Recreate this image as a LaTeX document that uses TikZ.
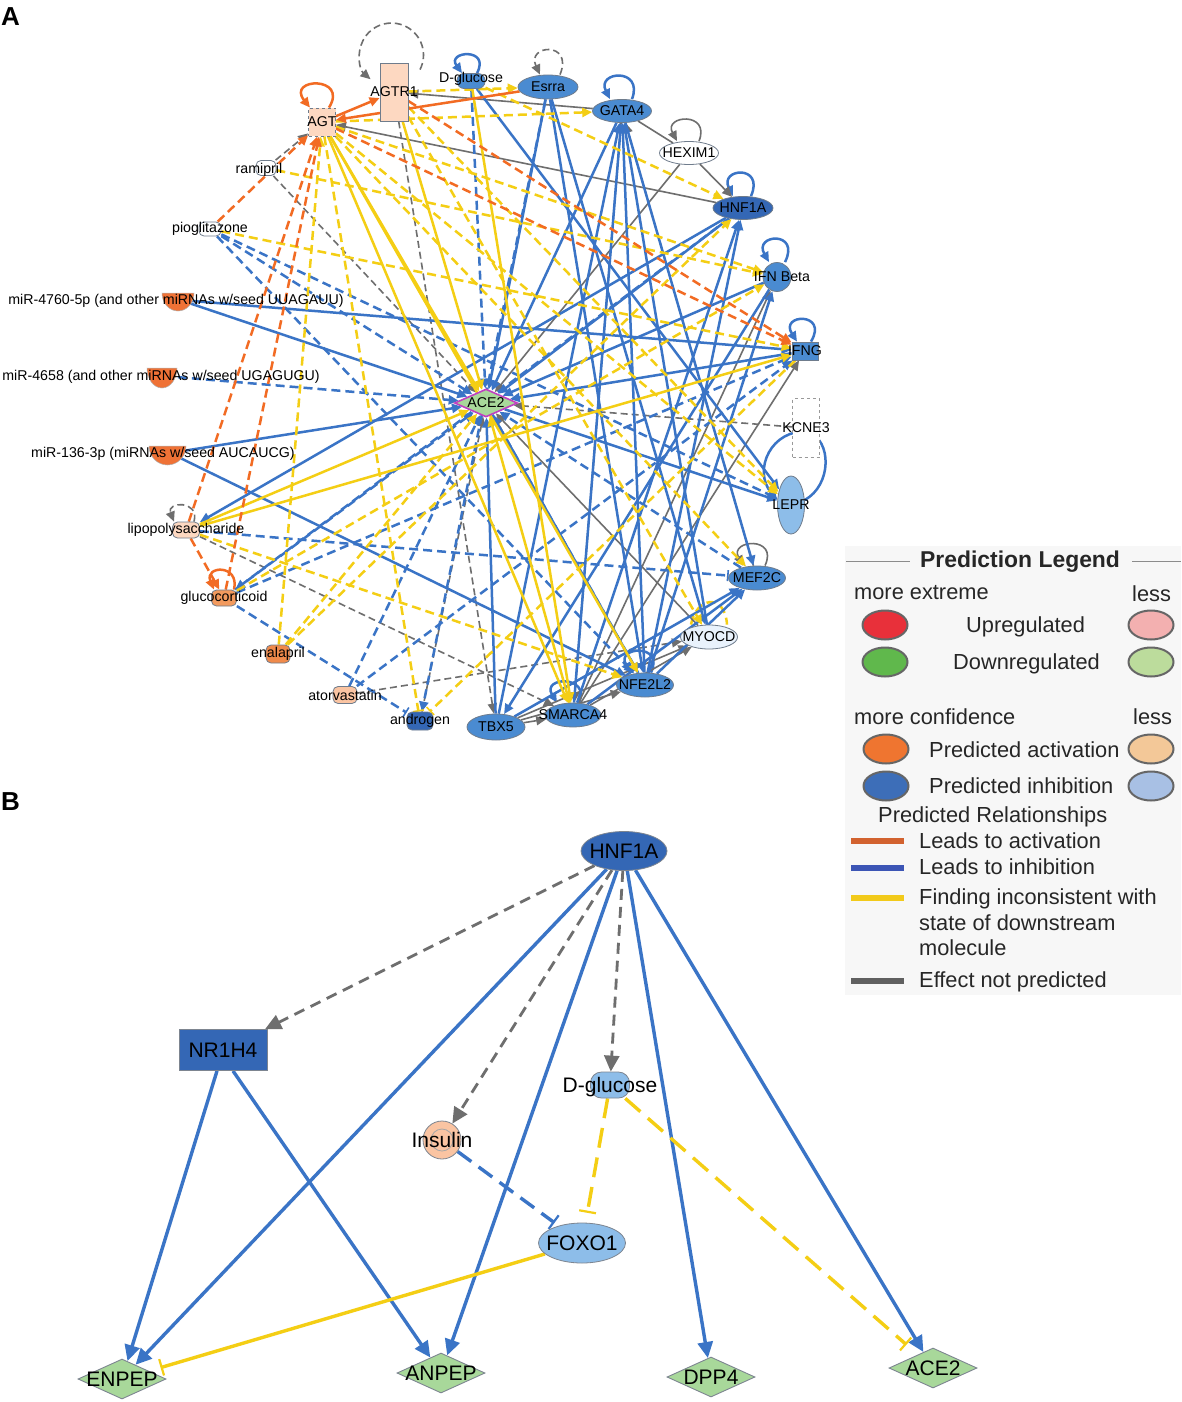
\documentclass[tikz,border=0pt]{standalone}
\usepackage{fontspec}
\setmainfont{Liberation Sans}
\usetikzlibrary{arrows.meta,shapes.geometric}
\pgfdeclarelayer{bg}
\pgfsetlayers{bg,main}
\definecolor{ora}{HTML}{F26B23}
\definecolor{blu}{HTML}{3A74C6}
\definecolor{yel}{HTML}{F4CE14}
\definecolor{gry}{HTML}{6E6E6E}
\definecolor{bluM}{HTML}{4A8BD1}
\definecolor{bluD}{HTML}{3467B5}
\definecolor{bluL}{HTML}{8DBDE9}
\definecolor{bluX}{HTML}{E9F2FC}
\definecolor{peach}{HTML}{FDD8C1}
\definecolor{peach2}{HTML}{FAC4A2}
\definecolor{orgN}{HTML}{EF7236}
\definecolor{orgE}{HTML}{F08A4B}
\definecolor{orgL}{HTML}{F29A5E}
\definecolor{grnN}{HTML}{A8D89A}
\definecolor{magB}{HTML}{C040C0}
\definecolor{bord}{HTML}{6F7C8C}
\definecolor{bordB}{HTML}{7D8590}
\tikzset{
 nd/.style={draw=bord, line width=0.8pt, inner sep=0pt},
 ell/.style={nd, ellipse},
 rbox/.style={nd, rectangle},
 chem/.style={nd, rectangle, rounded corners=5pt},
 lblA/.style={font=\fontsize{14.2}{14.2}\selectfont, inner sep=0pt, text=black},
 lab/.style={label={[lblA]center:#1}},
 lblB/.style={font=\fontsize{21}{21}\selectfont, inner sep=0pt, text=black},
 labB/.style={label={[lblB]center:#1}},
 dia/.style={diamond, draw=bordB, line width=0.9pt, fill=grnN, inner sep=0pt, minimum width=88pt, minimum height=40pt},
 tipA/.style={-{Triangle[length=10pt,width=9pt]}},
 tipBar/.style={-{Bar[width=11pt,line width=1.6pt]}},
 lnO/.style={draw=ora, line width=2.5pt, tipA},
 lnOd/.style={lnO, dash pattern=on 9pt off 5pt},
 lnB/.style={draw=blu, line width=2.5pt, tipA},
 lnBd/.style={lnB, dash pattern=on 9pt off 5pt},
 lnY/.style={draw=yel, line width=2.5pt, tipA},
 lnYd/.style={lnY, dash pattern=on 9pt off 5pt},
 lnG/.style={draw=gry, line width=1.6pt, tipA},
 lnGd/.style={lnG, dash pattern=on 7pt off 4pt},
 tipB/.style={-{Triangle[length=16pt,width=15pt]}},
 tipBarB/.style={-{Bar[width=17pt,line width=2.2pt]}},
 lnBB/.style={draw=blu, line width=3.4pt, tipB},
 lnBdB/.style={lnBB, dash pattern=on 17pt off 9pt},
 lnYB/.style={draw=yel, line width=3.4pt, tipB},
 lnYdB/.style={lnYB, dash pattern=on 20pt off 10pt},
 lnGdB/.style={draw=gry, line width=2.8pt, tipB, dash pattern=on 11pt off 7pt},
 lgtx/.style={font=\fontsize{21.8}{22}\selectfont, inner sep=0pt, anchor=base west, text=black!85},
 lgell/.style={ellipse, draw=black!60, line width=2pt, minimum width=45pt, minimum height=29pt, inner sep=0pt},
}
\begin{document}
\begin{tikzpicture}[x=1pt,y=1pt]
\useasboundingbox (0,0) rectangle (1181,-1402);
\begin{pgfonlayer}{bg}
\fill[white] (0,0) rectangle (1181,-1402);
\fill[black!3] (845,-546) rectangle (1181,-995);
\end{pgfonlayer}

% panel letters
\node[font=\bfseries\fontsize{26}{26}\selectfont, anchor=base west, inner sep=0pt] (pA) at (1,-26) {A};
\node[font=\bfseries\fontsize{26}{26}\selectfont, anchor=base west, inner sep=0pt] (pB) at (1,-810) {B};

% ================= PANEL A nodes =================
\node[rbox, dashed, fill=peach, minimum width=27pt, minimum height=28pt, lab=AGT] (agt) at (322,-122) {};
\node[rbox, fill=peach, minimum width=28pt, minimum height=58pt, lab=AGTR1] (agtr) at (394,-92) {};
\node[chem, fill=bluM, minimum width=28pt, minimum height=15pt, rounded corners=7pt, label={[lblA,yshift=2pt]center:D-glucose}] (dglu) at (471,-81) {};
\node[ell, fill=bluM, minimum width=60pt, minimum height=24pt, lab=Esrra] (esrra) at (548,-87) {};
\node[ell, fill=bluM, minimum width=59pt, minimum height=23pt, lab=GATA4] (gata) at (622,-111) {};
\node[ell, fill=white, minimum width=59pt, minimum height=23pt, lab=HEXIM1] (hexim) at (689,-153) {};
\node[ell, fill=bluD, minimum width=60pt, minimum height=23pt, lab=HNF1A] (hnf) at (743,-208) {};
\node[ell, fill=bluM, minimum width=28pt, minimum height=29pt, label={[lblA,xshift=5pt]center:IFN Beta}] (ifnb) at (777,-277) {};
\node[rbox, fill=bluM, minimum width=26pt, minimum height=18pt, lab=IFNG] (ifng) at (805,-351) {};
\node[rbox, dashed, draw=gray!80, fill=white, minimum width=27pt, minimum height=59pt, lab=KCNE3] (kcne) at (806,-428) {};
\node[ell, fill=bluL, minimum width=27pt, minimum height=58pt, lab=LEPR] (lepr) at (791,-505) {};
\node[ell, fill=bluM, minimum width=57pt, minimum height=24pt, lab=MEF2C] (mef) at (757,-578) {};
\node[ell, fill=bluX, minimum width=57pt, minimum height=24pt, lab=MYOCD] (myocd) at (709,-637) {};
\node[ell, fill=bluM, minimum width=57pt, minimum height=24pt, lab=NFE2L2] (nfe) at (645,-685) {};
\node[ell, fill=bluM, minimum width=56pt, minimum height=24pt, lab=SMARCA4] (smarca) at (573,-715) {};
\node[ell, fill=bluM, minimum width=58pt, minimum height=26pt, lab=TBX5] (tbx) at (496,-727) {};
\node[chem, fill=bluD, minimum width=26pt, minimum height=18pt, lab=androgen] (andro) at (420,-721) {};
\node[chem, fill=peach2, minimum width=24pt, minimum height=17pt, lab=atorvastatin] (atorv) at (345,-695) {};
\node[chem, fill=orgE, minimum width=24pt, minimum height=18pt, lab=enalapril] (enal) at (278,-654) {};
\node[chem, fill=orgL, minimum width=25pt, minimum height=16pt, lab=glucocorticoid] (gluco) at (224,-598) {};
\node[chem, fill=peach, minimum width=27pt, minimum height=16pt, lab=lipopolysaccharide] (lps) at (186,-530) {};
\node[chem, fill=white, minimum width=22pt, minimum height=14pt, lab=pioglitazone] (pio) at (210,-229) {};
\node[chem, fill=white, minimum width=20pt, minimum height=15pt, label={[lblA,xshift=-7pt,yshift=-2pt]center:ramipril}] (rami) at (266,-168) {};
\node[diamond, fill=grnN, draw=magB, line width=1.6pt, minimum width=63pt, minimum height=28pt, inner sep=0pt, lab=ACE2] (ace) at (486,-403) {};

% miRNAs
\filldraw[fill=orgN, draw=gray!60, line width=0.5pt] (162,-293) -- (194,-293) arc[start angle=0, end angle=-180, x radius=16, y radius=18] -- cycle;
\coordinate (m4760) at (180,-300);
\node[lblA] (t4760) at (176,-301) {miR-4760-5p (and other miRNAs w/seed UUAGAUU)};
\filldraw[fill=orgN, draw=gray!60, line width=0.5pt] (147,-368) -- (177,-368) arc[start angle=0, end angle=-180, x radius=15, y radius=20] -- cycle;
\coordinate (m4658) at (164,-376);
\node[lblA] (t4658) at (161,-377) {miR-4658 (and other miRNAs w/seed UGAGUGU)};
\filldraw[fill=orgN, draw=gray!60, line width=0.5pt] (149,-446) -- (186,-446) arc[start angle=0, end angle=-180, x radius=18.5, y radius=19] -- cycle;
\coordinate (m136) at (170,-453);
\node[lblA] (t136) at (163,-454) {miR-136-3p (miRNAs w/seed AUCAUCG)};

% ================= PANEL A edges =================
\begin{pgfonlayer}{bg}
% self loops
\draw[lnO] ([xshift=7pt]agt.north) .. controls +(20,32) and +(-24,30) .. ([xshift=-12pt]agt.north);
\draw[lnGd] ([shift={(26,-7)}]agtr.north) arc[start angle=-27, end angle=229, radius=32];
\draw[lnB] ([xshift=6pt]dglu.north) .. controls +(14,26) and +(-16,22) .. ([xshift=-9pt]dglu.north);
\draw[lnGd] ([xshift=12pt]esrra.north) .. controls +(14,34) and +(-14,30) .. ([xshift=-8pt]esrra.north);
\draw[lnB] ([xshift=10pt]gata.north) .. controls +(12,32) and +(-14,28) .. ([xshift=-12pt]gata.north);
\draw[lnG] ([xshift=10pt]hexim.north) .. controls +(12,30) and +(-14,26) .. ([xshift=-12pt]hexim.north);
\draw[lnB] ([xshift=8pt]hnf.north) .. controls +(14,32) and +(-14,28) .. ([xshift=-10pt]hnf.north);
\draw[lnB] ([xshift=8pt]ifnb.north) .. controls +(16,32) and +(-16,28) .. ([xshift=-8pt]ifnb.north);
\draw[lnB] ([xshift=6pt]ifng.north) .. controls +(18,30) and +(-18,28) .. ([xshift=-8pt]ifng.north);
\draw[lnB] (lepr.20) .. controls (832,-485) and (832,-440) .. (808,-432) .. controls (772,-428) and (752,-470) .. (lepr.160);
\draw[lnG] ([xshift=8pt]mef.north) .. controls +(14,30) and +(-14,26) .. ([xshift=-14pt]mef.north);
\draw[lnB] ([xshift=6pt]nfe.north) .. controls +(14,30) and +(-16,26) .. ([xshift=-14pt]nfe.north);
\draw[lnB] ([xshift=6pt]smarca.north) .. controls +(12,28) and +(-16,26) .. ([xshift=-16pt]smarca.north);
\draw[lnGd] ([xshift=8pt]lps.north) .. controls +(6,22) and +(-8,20) .. ([xshift=-12pt]lps.north);
\draw[lnO] ([xshift=10pt]gluco.north) .. controls +(6,26) and +(-10,24) .. ([xshift=-10pt]gluco.north);
\draw[lnYd, -] ([xshift=-18pt]myocd.north) .. controls +(5,28) and +(-2,32) .. ([xshift=18pt]myocd.north);

% gray
\draw[lnG] (hexim) -- (ace);
\draw[lnGd] (kcne) -- (ace);
\draw[lnG] (myocd) -- (ace);
\draw[lnGd] (andro) -- (ace);
\draw[lnGd] (rami) -- (ace);
\draw[lnG] (gata) -- (agtr);
\draw[lnG] (hnf) -- (agt);
\draw[lnGd] (rami) -- (agt);
\draw[lnGd] (agtr) -- (tbx);
\draw[lnGd] (lps) -- (smarca);
\draw[lnGd] (atorv) -- (myocd);
\draw[lnG, -] (gata) -- (hexim);
\draw[lnG] (hexim) -- (hnf);
\draw[lnGd] (mef) -- (gata);
\draw[lnG] (gata) -- (smarca);
\draw[lnG] (smarca) -- (ifnb);
\draw[lnG] (smarca) -- (ifng);
\draw[lnG] (tbx) -- (myocd);
\draw[lnG] (smarca) -- (myocd);
\draw[lnG] (tbx) -- (smarca);
\draw[lnG] (tbx) -- (nfe);
% blue
\draw[lnBd] (dglu) -- (ace);
\draw[lnB] (esrra) -- (ace);
\draw[lnB] (gata) -- (ace);
\draw[lnB] (hnf) -- (ace);
\draw[lnB] (ifnb) -- (ace);
\draw[lnB] (ifng) -- (ace);
\draw[lnB] (ace) -- (lepr);
\draw[lnBd] (mef) -- (ace);
\draw[lnB] (nfe) -- (ace);
\draw[lnB] (tbx) -- (ace);
\draw[lnBd] (atorv) -- (ace);
\draw[lnBd] (gluco) -- (ace);
\draw[lnB] (m136) -- (ace);
\draw[lnBd] (m4658) -- (ace);
\draw[lnB] (m4760) -- (ace);
\draw[lnBd] (pio) -- (ace);
\draw[lnBd, tipBar] (lps) -- (mef);
\draw[lnBd, tipBar] (gluco) -- (andro);
\draw[lnBd] (gluco) -- (ifng);
\draw[lnBd] (atorv) -- (ifng);
\draw[lnBd] (esrra) -- (andro);
\draw[lnBd] (pio) -- (lepr);
\draw[lnBd] (pio) -- (nfe);
\draw[lnB] (m4760) -- (ifng);
\draw[lnB] (m136) -- (nfe);
\draw[lnB] (tbx) -- (gata);
\draw[lnB] (smarca) -- (gata);
\draw[lnB] (nfe) -- (gata);
\draw[lnB] (myocd) -- (gata);
\draw[lnB] (gata) -- (mef);
\draw[lnB] (dglu) -- (lepr);
\draw[lnB] (esrra) -- (myocd);
\draw[lnB] (esrra) -- (nfe);
\draw[lnB] (smarca) -- (hnf);
\draw[lnB] (nfe) -- (hnf);
\draw[lnB] (nfe) -- (ifnb);
\draw[lnB] (ifnb) -- (tbx);
\draw[lnB] (tbx) -- (mef);
\draw[lnB] (smarca) -- (mef);
\draw[lnB] (nfe) -- (mef);
\draw[lnBd] (ace) -- (nfe);
\draw[lnB] (hnf) -- (lps);
\draw[lnBd] (hnf) -- (gluco);
% yellow
\draw[lnY] (agt) -- (ace);
\draw[lnY] (agtr) -- (ace);
\draw[lnY] (smarca) -- (ace);
\draw[lnYd] (enal) -- (ace);
\draw[lnY] (lps) -- (ace);
\draw[lnYd] (agt) -- (gata);
\draw[lnYd] (agtr) -- (esrra);
\draw[lnY] (agt) -- (smarca);
\draw[lnY] (agt) -- (nfe);
\draw[lnYd] (agt) -- (mef);
\draw[lnYd] (agt) -- (lepr);
\draw[lnYd] (agt) -- (ifnb);
\draw[lnYd] (agtr) -- (lepr);
\draw[lnYd] (agtr) -- (myocd);
\draw[lnY] (dglu) -- (smarca);
\draw[lnYd] (lps) -- (nfe);
\draw[lnY] (lps) -- (ifng);
\draw[lnYd] (gluco) -- (ifnb);
\draw[lnYd] (enal) -- (agt);
\draw[lnYd] (enal) -- (hnf);
\draw[lnYd, tipBar] (agt) -- (andro);
\draw[lnYd, tipBar] (ifng) -- (andro);
\draw[lnYd] (pio) -- (ifng);
\draw[lnYd] (dglu) -- (hnf);
\draw[lnYd] (rami) -- (ifnb);
% orange
\draw[lnO] (agt) -- (agtr);
\draw[lnO] (esrra) -- (agt);
\draw[lnOd] (agtr) -- (ifng);
\draw[lnOd] (agt) -- (ifng);
\draw[lnOd] (pio) -- (agt);
\draw[lnOd] (lps) -- (agt);
\draw[lnOd] (gluco) -- (agt);
\draw[lnOd] (lps) -- (gluco);
\end{pgfonlayer}

% ================= PANEL B =================
\node[ell, fill=bluD, draw=bordB, minimum width=86pt, minimum height=39pt, labB=HNF1A] (hnfB) at (624,-851) {};
\node[rbox, fill=bluD, draw=bordB, minimum width=88pt, minimum height=41pt, labB=NR1H4] (nr1h4) at (223,-1050) {};
\node[chem, fill=bluL, draw=bordB, minimum width=39pt, minimum height=26pt, rounded corners=11pt, label={[lblB,yshift=-2pt]center:D-glucose}] (dgluB) at (610,-1085) {};
\node[circle, nd, draw=bordB, fill=peach2, minimum size=38pt, path picture={\draw[gray!70, line width=0.8pt] (path picture bounding box.center) circle[radius=11pt];}, labB=Insulin] (insulin) at (442,-1140) {};
\node[ell, fill=bluL, draw=bordB, minimum width=87pt, minimum height=40pt, labB=FOXO1] (foxo) at (582,-1243) {};
\node[dia, labB=ENPEP] (enpep) at (122,-1379) {};
\node[dia, labB=ANPEP] (anpep) at (441,-1373) {};
\node[dia, labB=DPP4] (dpp4) at (711,-1377) {};
\node[dia, labB=ACE2] (aceB) at (933,-1368) {};

\begin{pgfonlayer}{bg}
\draw[lnGdB] (hnfB) -- (nr1h4);
\draw[lnGdB] (hnfB) -- (insulin);
\draw[lnGdB] (hnfB) -- (dgluB);
\draw[lnBB] (hnfB) -- (enpep);
\draw[lnBB] (hnfB) -- (anpep);
\draw[lnBB] (hnfB) -- (dpp4);
\draw[lnBB] (hnfB) -- (aceB);
\draw[lnBB] ([xshift=-6pt]nr1h4.south) -- (enpep);
\draw[lnBB] ([xshift=10pt]nr1h4.south) -- (anpep);
\draw[lnBdB, tipBarB, shorten >=5pt] (insulin) -- (foxo);
\draw[lnYdB, tipBarB, shorten >=10pt] (dgluB) -- (foxo);
\draw[lnYdB, tipBarB, shorten >=15pt] (dgluB) -- (aceB);
\draw[lnYB, tipBarB, shorten >=12pt] (foxo) -- (enpep);
\end{pgfonlayer}

% ================= LEGEND =================
\draw[black!45, line width=1pt] (846,-561) -- (910,-561);
\draw[black!45, line width=1pt] (1132,-561) -- (1181,-561);
\node[font=\bfseries\fontsize{22.9}{23}\selectfont, inner sep=0pt, anchor=base west, text=black!85] (lgt) at (920,-567) {Prediction Legend};
\node[lgtx] (lg1) at (854,-599) {more extreme};
\node[lgtx] (lg2) at (1132,-601) {less};
\node[lgtx] (lg3) at (966,-632) {Upregulated};
\node[lgtx] (lg4) at (953,-669) {Downregulated};
\node[lgtx] (lg5) at (854,-724) {more confidence};
\node[lgtx] (lg6) at (1133,-724) {less};
\node[lgtx] (lg7) at (929,-757) {Predicted activation};
\node[lgtx] (lg8) at (929,-793) {Predicted inhibition};
\node[lgtx] (lg9) at (878,-822) {Predicted Relationships};
\node[lgtx] (lg10) at (919,-848) {Leads to activation};
\node[lgtx] (lg11) at (919,-874) {Leads to inhibition};
\node[lgtx] (lg12) at (919,-904) {Finding inconsistent with};
\node[lgtx] (lg13) at (919,-930) {state of downstream};
\node[lgtx] (lg14) at (919,-955) {molecule};
\node[lgtx] (lg15) at (919,-987) {Effect not predicted};
\node[lgell, fill={rgb,255:red,232;green,48;blue,58}] (le1) at (885,-625) {};
\node[lgell, fill={rgb,255:red,243;green,176;blue,176}] (le2) at (1151,-625) {};
\node[lgell, fill={rgb,255:red,96;green,184;blue,76}] (le3) at (885,-662) {};
\node[lgell, fill={rgb,255:red,188;green,220;blue,156}] (le4) at (1151,-662) {};
\node[lgell, fill={rgb,255:red,239;green,117;blue,48}] (le5) at (886,-749) {};
\node[lgell, fill={rgb,255:red,243;green,200;blue,152}] (le6) at (1151,-749) {};
\node[lgell, fill={rgb,255:red,61;green,110;blue,184}] (le7) at (886,-786) {};
\node[lgell, fill={rgb,255:red,168;green,192;blue,228}] (le8) at (1151,-786) {};
\draw[line width=5.5pt, color={rgb,255:red,210;green,98;blue,47}] (851,-841) -- (904,-841);
\draw[line width=5.5pt, color={rgb,255:red,60;green,85;blue,181}] (851,-868) -- (904,-868);
\draw[line width=5.5pt, color={rgb,255:red,242;green,202;blue,26}] (851,-898) -- (904,-898);
\draw[line width=5.5pt, color={rgb,255:red,96;green,96;blue,96}] (851,-981) -- (904,-981);
\end{tikzpicture}
\end{document}
